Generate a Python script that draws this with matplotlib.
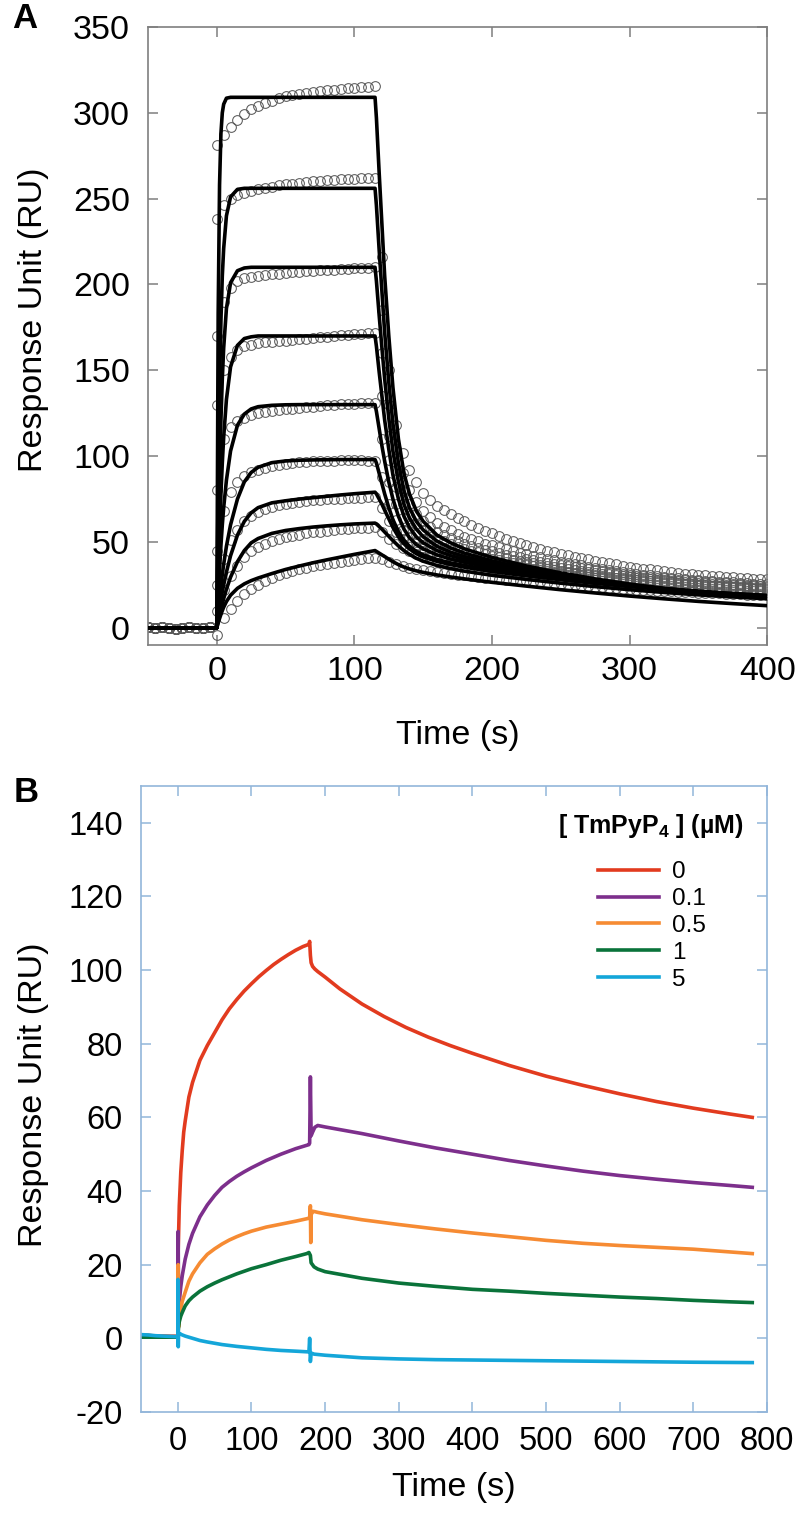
import matplotlib
matplotlib.use("Agg")
import matplotlib.pyplot as plt

plt.rcParams["font.family"] = ["Liberation Sans", "DejaVu Sans"]
plt.rcParams["mathtext.fontset"] = "custom"
plt.rcParams["mathtext.rm"] = "Liberation Sans"
plt.rcParams["mathtext.bf"] = "Liberation Sans:bold"
plt.rcParams["axes.unicode_minus"] = False

# ---------------- panel A : sensorgrams (circles) + fits (lines) ----------------
t_base = list(range(-50, 0, 5))
base_ru = [0.5, 0, 0.5, 0, -0.5, 0, 0.5, 0, 0, 0.5]
t_assoc = list(range(0, 120, 5))
t_dissoc = list(range(120, 405, 5))

a1 = [281, 287, 292, 296, 299, 302, 304, 305.5, 307, 308.5, 309.5, 310.3, 311, 311.5, 312, 312.5, 313, 313.5, 314, 314.3, 314.7, 315, 315.3, 315.6]
a2 = [238, 246, 250, 252, 253.5, 254.5, 255.5, 256.3, 257, 257.7, 258.3, 258.8, 259.2, 259.6, 260, 260.3, 260.6, 260.9, 261.2, 261.4, 261.6, 261.8, 262, 262]
a3 = [170, 190, 198, 202, 203.5, 204.5, 205, 205.5, 206, 206.3, 206.6, 207, 207.3, 207.6, 208, 208.2, 208.5, 208.7, 209, 209.2, 209.4, 209.6, 209.8, 210]
a4 = [130, 150, 158, 162, 164, 165, 165.7, 166.2, 166.6, 167, 167.3, 167.6, 168, 168.4, 168.8, 169.2, 169.6, 170, 170.4, 170.7, 171, 171.3, 171.6, 172]
a5 = [80, 110, 117, 120.5, 122.5, 124, 125, 125.7, 126.3, 126.8, 127.2, 127.6, 128, 128.4, 128.8, 129.2, 129.5, 129.8, 130.1, 130.4, 130.6, 130.8, 131, 131]
a6 = [45, 68, 79, 85, 88.5, 90.5, 92, 93.2, 94.2, 95, 95.6, 96.1, 96.5, 96.8, 97, 97.2, 97.3, 97.4, 97.5, 97.5, 97.5, 97.5, 97.4, 97.3]
a7 = [25, 40, 51, 57, 62, 65, 67.5, 69.3, 70.5, 71.5, 72.3, 72.9, 73.4, 73.8, 74.2, 74.5, 74.8, 75, 75.3, 75.5, 75.7, 75.8, 76, 76]
a8 = [10, 22, 30, 36, 41, 44.5, 47, 49, 50.6, 51.8, 52.8, 53.6, 54.3, 55, 55.6, 56.1, 56.6, 57, 57.4, 57.7, 58, 58.2, 58.4, 58.5]
a9 = [-4, 6, 11, 15.5, 19.5, 22.5, 25, 27.2, 29, 30.6, 32, 33.2, 34.2, 35.1, 35.9, 36.6, 37.3, 37.9, 38.5, 39, 39.5, 40, 40.4, 40.8]

d1 = [216, 150, 118, 102, 92, 85, 78.6, 74.5, 71, 68.5, 66.5, 64, 62, 60, 58, 56.5, 55,
      53.5, 52, 50.7, 49.5, 48.2, 47, 46, 45, 44, 43,
      42.2, 41.4, 40.6, 39.8, 39, 38.3, 37.6, 37, 36.3, 35.7,
      35.1, 34.5, 34, 33.4, 32.9, 32.4, 32, 31.6, 31.2, 30.8,
      30.5, 30.2, 29.9, 29.6, 29.4, 29.1, 28.9, 28.7, 28.5, 28.3]
d2 = [185, 130, 104, 90, 80, 73.5, 68, 64.3, 61, 58.8, 56.8, 54.8, 53, 51.6, 50.3, 49.1, 48,
      46.9, 45.8, 44.8, 43.8, 42.8, 41.9, 41, 40.1, 39.3, 38.5,
      37.8, 37.1, 36.4, 35.7, 35, 34.4, 33.8, 33.2, 32.6, 32,
      31.5, 31, 30.5, 30, 29.6, 29.2, 28.8, 28.4, 28, 27.6,
      27.3, 27, 26.8, 26.6, 26.4, 26.2, 26, 25.8, 25.6, 25.4]
d3 = [160, 112, 92, 80, 72, 66.5, 62, 58.8, 56, 54, 52.2, 50.5, 49, 47.8, 46.6, 45.5, 44.5,
      43.6, 42.7, 41.8, 41, 40.2, 39.4, 38.6, 37.8, 37.1, 36.4,
      35.8, 35.2, 34.6, 34, 33.4, 32.9, 32.3, 31.8, 31.3, 30.8,
      30.4, 30, 29.6, 29.2, 28.8, 28.4, 28, 27.7, 27.4, 27.1,
      26.8, 26.5, 26.2, 25.9, 25.6, 25.3, 25, 24.8, 24.6, 24.4]
d4 = [135, 98, 82, 72, 65, 60.5, 57, 54.3, 52, 50.3, 48.8, 47.3, 46, 44.9, 43.9, 42.9, 42,
      41.2, 40.4, 39.6, 38.9, 38.2, 37.5, 36.8, 36.1, 35.4, 34.8,
      34.2, 33.6, 33.1, 32.6, 32.1, 31.6, 31.1, 30.6, 30.1, 29.7,
      29.3, 28.9, 28.5, 28.1, 27.8, 27.5, 27.2, 26.9, 26.6, 26.3,
      26, 25.7, 25.4, 25.1, 24.9, 24.7, 24.5, 24.3, 24.1, 23.9]
d5 = [110, 85, 72, 64, 58, 54.7, 52, 49.8, 48, 46.6, 45.3, 44.1, 43, 42.2, 41.4, 40.7, 40,
      39.3, 38.6, 37.9, 37.2, 36.5, 35.8, 35.1, 34.4, 33.8, 33.2,
      32.7, 32.2, 31.7, 31.2, 30.7, 30.2, 29.7, 29.3, 28.9, 28.5,
      28.1, 27.7, 27.3, 27, 26.7, 26.4, 26.1, 25.8, 25.5, 25.2,
      24.9, 24.6, 24.3, 24.1, 23.9, 23.7, 23.5, 23.3, 23.1, 22.9]
d6 = [88, 72, 63, 57, 53, 50.2, 48, 46.4, 45, 43.9, 42.8, 41.9, 41, 40.2, 39.4, 38.7, 38,
      37.3, 36.7, 36.1, 35.5, 34.9, 34.3, 33.8, 33.2, 32.7, 32.2,
      31.7, 31.3, 30.9, 30.5, 30.1, 29.7, 29.3, 28.9, 28.5, 28.1,
      27.7, 27.3, 27, 26.6, 26.3, 26, 25.7, 25.4, 25.1, 24.8,
      24.5, 24.2, 24, 23.7, 23.5, 23.3, 23.1, 22.9, 22.7, 22.5]
d7 = [70, 62, 56, 52, 49, 46.8, 45, 43.7, 42.5, 41.5, 40.6, 39.8, 39, 38.3, 37.7, 37.1, 36.5,
      35.9, 35.3, 34.7, 34.2, 33.7, 33.2, 32.7, 32.2, 31.7, 31.2,
      30.8, 30.4, 30, 29.6, 29.2, 28.8, 28.4, 28, 27.6, 27.2,
      26.9, 26.6, 26.3, 26, 25.7, 25.4, 25.1, 24.8, 24.5, 24.2,
      24, 23.8, 23.5, 23.3, 23.1, 22.9, 22.7, 22.5, 22.3, 22.1]
d8 = [56, 52, 49, 46.5, 44.5, 42.9, 41.5, 40.4, 39.5, 38.7, 37.9, 37.2, 36.5, 35.9, 35.2, 34.6, 34,
      33.5, 33, 32.5, 32, 31.6, 31.2, 30.8, 30.4, 30, 29.6,
      29.2, 28.8, 28.4, 28.1, 27.7, 27.3, 27, 26.7, 26.4, 26.1,
      25.8, 25.5, 25.2, 24.9, 24.6, 24.3, 24, 23.7, 23.4, 23.1,
      22.9, 22.7, 22.5, 22.2, 22, 21.8, 21.6, 21.4, 21.2, 21]
d9 = [40, 38.5, 37, 36, 35, 34.2, 33.5, 33, 32.5, 32, 31.5, 31, 30.5, 30.1, 29.7, 29.3, 28.9,
      28.5, 28.1, 27.8, 27.4, 27.1, 26.8, 26.4, 26.1, 25.8, 25.5,
      25.2, 24.9, 24.6, 24.3, 24, 23.7, 23.4, 23.1, 22.8, 22.5,
      22.3, 22.1, 21.9, 21.7, 21.5, 21.3, 21.1, 20.9, 20.7, 20.5,
      20.3, 20.1, 20, 19.8, 19.7, 19.5, 19.4, 19.2, 19.1, 19]

t_fit = [-50, 0, 1, 2, 3, 4, 5, 7, 10, 15, 20, 25, 30, 40, 50, 60, 70, 80, 90, 100, 115,
         116, 118, 120, 122, 125, 128, 132, 136, 140, 145, 150, 160, 170, 180, 200, 225, 250, 275, 300, 325, 350, 375, 400]
fit1 = [0, 0, 183, 258, 288, 300, 305, 308.5, 309, 309, 309, 309, 309, 309, 309, 309, 309, 309, 309, 309, 309,
        297, 265, 235, 205, 170, 140, 110, 90, 78, 68, 62, 54, 49.5, 46, 41, 36, 32, 28.5, 25.5, 23, 21, 19.5, 18]
fit2 = [0, 0, 84, 141, 179, 205, 221, 240, 251, 255.4, 256, 256, 256, 256, 256, 256, 256, 256, 256, 256, 256,
        246, 220, 196, 172, 143, 119, 96, 80, 70, 62, 57, 50.5, 46.5, 43.5, 39, 34.5, 31, 27.8, 25, 22.6, 20.7, 19.2, 17.8]
fit3 = [0, 0, 50, 90, 121, 145, 163, 186, 201, 208, 209.6, 210, 210, 210, 210, 210, 210, 210, 210, 210, 210,
        202, 182, 163, 145, 122, 103, 85, 72, 64, 57.5, 53, 47.5, 44, 41.5, 37.5, 33.5, 30.3, 27.3, 24.8, 22.5, 20.7, 19.2, 17.9]
fit4 = [0, 0, 30, 56, 78, 96, 111, 133, 152, 164.5, 168.5, 169.5, 170, 170, 170, 170, 170, 170, 170, 170, 170,
        164, 149, 135, 121, 104, 89, 75, 65, 58.5, 53, 49.5, 45, 42, 39.8, 36.3, 32.8, 29.8, 27, 24.6, 22.5, 20.8, 19.4, 18.1]
fit5 = [0, 0, 18, 34, 48, 60, 70, 86, 103, 118, 124.5, 127.5, 128.8, 129.6, 129.9, 130, 130, 130, 130, 130, 130,
        126, 116, 106, 97, 85, 75, 65, 57.5, 52.5, 48.5, 46, 42.5, 40, 38.2, 35.2, 32.2, 29.5, 27, 24.8, 22.8, 21.2, 19.8, 18.6]
fit6 = [0, 0, 9, 17, 24.5, 31, 37, 47.5, 60, 75, 85, 90.5, 93.5, 96.2, 97.2, 97.6, 97.8, 97.9, 98, 98, 98,
        96, 90, 84, 78, 70, 63, 56, 51, 47.5, 44.5, 42.5, 39.8, 37.8, 36.3, 33.8, 31.2, 28.8, 26.6, 24.6, 22.8, 21.3, 20, 18.9]
fit7 = [0, 0, 6, 11.5, 16.5, 21, 25, 32.5, 42, 54, 62, 67, 70, 72.8, 74, 75, 75.8, 76.6, 77.4, 78.1, 79,
        78, 75, 72, 68.5, 63.5, 58.5, 53, 49, 46, 43.2, 41.3, 38.7, 36.8, 35.3, 32.8, 30.3, 28, 25.9, 24, 22.3, 20.9, 19.6, 18.5]
fit8 = [0, 0, 4, 7.5, 11, 14, 17, 22.5, 29.5, 38.5, 45, 49.5, 52, 55, 56.7, 57.8, 58.7, 59.4, 60, 60.5, 61,
        60.5, 59, 57.5, 55.8, 53.3, 50.8, 47.7, 45, 42.8, 40.5, 38.8, 36.3, 34.5, 33, 30.6, 28.2, 26, 24, 22.2, 20.6, 19.2, 18, 16.9]
fit9 = [0, 0, 2.8, 5.4, 7.8, 10, 12, 15.3, 19, 23, 25.6, 27.5, 29, 31.6, 34, 36, 37.9, 39.6, 41.2, 42.8, 45,
        44.5, 43.5, 42.5, 41.5, 40, 38.5, 36.8, 35.4, 34.3, 33.2, 32.3, 30.8, 29.6, 28.5, 26.5, 24.3, 22.2, 20.3, 18.5, 16.9, 15.4, 14.1, 12.9]

assoc = [a1, a2, a3, a4, a5, a6, a7, a8, a9]
dissoc = [d1, d2, d3, d4, d5, d6, d7, d8, d9]
fits = [fit1, fit2, fit3, fit4, fit5, fit6, fit7, fit8, fit9]

# ---------------- panel B : TmPyP4 competition ----------------
t_red = [-50, -40, -30, -20, -10, -2, 0, 0.5, 1, 2, 4, 6, 8, 10, 15, 20, 30, 40, 50, 60, 70, 80, 90, 100,
         110, 120, 130, 140, 150, 160, 170, 178, 179, 180, 181, 183, 186, 190,
         200, 220, 250, 280, 310, 340, 370, 400, 450, 500, 550, 600, 650, 700, 750, 780]
ru_red = [0.8, 0.8, 0.6, 0.6, 0.5, 0.5, 0.5, 24, 28, 36, 45, 51, 56, 59, 65.5, 69.5, 75.5, 79.5, 83, 86.5, 89.5, 92, 94.3, 96.3,
          98.2, 99.9, 101.5, 102.9, 104.2, 105.4, 106.4, 107, 107.8, 104, 102, 101, 100.3, 99.6,
          98.1, 94.9, 90.8, 87.4, 84.4, 81.8, 79.5, 77.4, 74.1, 71.2, 68.7, 66.4, 64.3, 62.5, 60.9, 60]

t_pur = [-50, -30, -10, 0, 0.5, 1, 2, 4, 6, 10, 15, 20, 30, 40, 50, 60, 70, 80, 90, 100,
         120, 140, 160, 178, 179, 180, 181, 183, 186, 190,
         200, 250, 300, 350, 400, 450, 500, 550, 600, 650, 700, 750, 780]
ru_pur = [0.8, 0.6, 0.5, 0.5, 29, 6, 10, 14, 17, 21.5, 25.5, 28.5, 33, 36.2, 38.8, 41, 42.6, 44, 45.2, 46.3,
          48.3, 50, 51.5, 52.6, 53, 71, 55, 56, 57.3, 57.8,
          57.4, 55.6, 53.6, 51.7, 50, 48.3, 46.8, 45.4, 44.2, 43.2, 42.3, 41.5, 41]

t_ora = [-50, -30, -10, 0, 0.5, 1, 2, 4, 6, 10, 15, 20, 30, 40, 50, 60, 70, 80, 90, 100,
         120, 140, 160, 178, 179, 180, 180.5, 181, 183, 186, 190,
         200, 250, 300, 350, 400, 450, 500, 550, 600, 650, 700, 740, 780]
ru_ora = [0.8, 0.6, 0.5, 0.5, 20, 3, 5.5, 8, 10, 12.5, 15.5, 17.5, 20.5, 22.8, 24.3, 25.6, 26.7, 27.6, 28.4, 29.1,
          30.2, 31, 31.8, 32.6, 32.8, 36, 26, 33.5, 34.5, 34.4, 34.2,
          33.8, 32.2, 30.9, 29.7, 28.6, 27.6, 26.6, 25.8, 25.2, 24.7, 24.2, 23.6, 23]

t_grn = [-50, -30, -10, 0, 1, 2, 4, 6, 10, 15, 20, 30, 40, 50, 60, 70, 80, 90, 100,
         120, 140, 160, 175, 178, 180, 181, 185, 190,
         200, 250, 300, 350, 400, 450, 500, 550, 600, 650, 700, 750, 780]
ru_grn = [0.3, 0.3, 0.3, 0.3, 3, 4.5, 6, 7, 8.8, 10.2, 11.2, 12.8, 14, 15, 15.9, 16.7, 17.5, 18.2, 18.9,
          20, 21.2, 22.2, 23, 23.3, 22.5, 20.5, 19.4, 18.8,
          18.1, 16.3, 15, 14.1, 13.3, 12.8, 12.2, 11.7, 11.2, 10.8, 10.3, 9.9, 9.7]

t_cyn = [-50, -40, -30, -20, -10, 0, 0.3, 0.6, 1, 5, 10, 20, 30, 40, 60, 80, 100, 120, 140, 160,
         178, 179, 180, 181, 185, 200, 250, 300, 350, 400, 500, 600, 700, 780]
ru_cyn = [1, 0.9, 0.7, 0.6, 0.5, 0.4, 16, -2.3, 1.5, 1, 0.6, 0, -0.6, -1, -1.7, -2.2, -2.6, -3, -3.3, -3.5,
          -3.7, 0, -6.3, -4, -4.3, -4.6, -5.3, -5.6, -5.8, -5.9, -6.1, -6.3, -6.5, -6.6]

conc_labels = ["0", "0.1", "0.5", "1", "5"]
conc_colors = ["#e23b1f", "#7d2f8c", "#f68b33", "#0a733a", "#14a6d9"]
series_b = [(t_red, ru_red), (t_pur, ru_pur), (t_ora, ru_ora), (t_grn, ru_grn), (t_cyn, ru_cyn)]

fig = plt.figure(figsize=(8, 15.13), dpi=100)

# panel A
axA = fig.add_axes([0.185, 0.5737, 0.774, 0.4085])
for a, d, f in zip(assoc, dissoc, fits):
    axA.plot(t_base + t_assoc + t_dissoc, base_ru + a + d, "o", ms=7, mfc="none",
             mec="#5a5a5a", mew=0.75, zorder=2)
    axA.plot(t_fit, f, color="black", lw=2.6, zorder=3, solid_joinstyle="round")

axA.set_xlim(-50, 400)
axA.set_ylim(-10, 350)
axA.set_xticks([0, 100, 200, 300, 400])
axA.set_yticks(range(0, 351, 50))
gA = "#7f7f7f"
for s in axA.spines.values():
    s.set_color(gA)
    s.set_linewidth(1.2)
axA.tick_params(axis="both", direction="in", length=7, width=1.1, color=gA,
                top=True, right=True, labelsize=24.5)
axA.tick_params(axis="x", pad=8)
axA.tick_params(axis="y", pad=13)
axA.set_xlabel("Time (s)", fontsize=24.5)
axA.xaxis.set_label_coords(0.5, -0.121)
axA.set_ylabel("Response Unit (RU)", fontsize=24.5)
axA.yaxis.set_label_coords(-0.16, 0.526)

# panel B
axB = fig.add_axes([0.17625, 0.0668, 0.7825, 0.4137])
for (t, r), lab, col in zip(series_b, conc_labels, conc_colors):
    axB.plot(t, r, color=col, lw=2.6, label=lab)

axB.set_xlim(-50, 800)
axB.set_ylim(-20, 150)
axB.set_xticks(range(0, 801, 100))
axB.set_yticks(range(-20, 141, 20))
gB = "#92b6da"
for s in axB.spines.values():
    s.set_color(gB)
    s.set_linewidth(1.2)
axB.tick_params(axis="both", direction="in", length=7, width=1.1, color=gB,
                top=True, right=True, labelsize=23.5)
axB.tick_params(axis="x", pad=10)
axB.tick_params(axis="y", pad=13)
axB.set_xlabel("Time (s)", fontsize=24.5)
axB.xaxis.set_label_coords(0.5, -0.096)
axB.set_ylabel("Response Unit (RU)", fontsize=24.5)
axB.yaxis.set_label_coords(-0.147, 0.506)

axB.legend(loc="upper left", bbox_to_anchor=(586 / 800, 1 - 849 / 1513),
           bbox_transform=fig.transFigure, frameon=False, fontsize=17.5, borderpad=0,
           handlelength=2.5, handletextpad=0.55, labelspacing=0.2)
fig.text(651 / 800, 1 - 826 / 1513, "[ TmPyP$_{\\mathbf{4}}$ ] (µM)", fontsize=18,
         fontweight="bold", ha="center", va="center")

fig.text(12 / 800, 1 - 2 / 1513, "A", fontsize=25, fontweight="bold", va="top", ha="left")
fig.text(14 / 800, 1 - 776 / 1513, "B", fontsize=25, fontweight="bold", va="top", ha="left")

fig.savefig("out.png", dpi=100)
